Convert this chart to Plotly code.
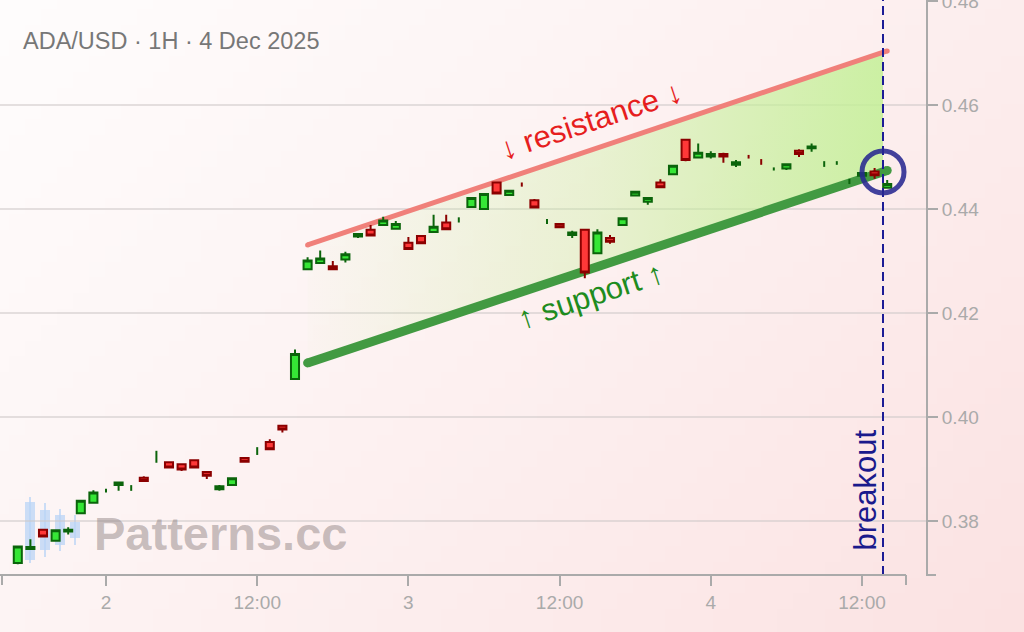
import base64
import struct
import zlib

import pandas as pd
import plotly.graph_objects as go

# ---------------- data ----------------
title_text = "ADA/USD · 1H · 4 Dec 2025"
times = pd.date_range("2025-12-01 17:00", periods=70, freq="h")

opens = [0.3719, 0.3746, 0.3783, 0.3762, 0.3780, 0.3815, 0.3835,
         0.3858, 0.3869, 0.3862, 0.3883, 0.3920, 0.3913, 0.3909, 0.3917, 0.3894,
         0.3861, 0.3869, 0.3921, 0.3930, 0.3952, 0.3983, 0.4073, 0.4284, 0.4296,
         0.4290, 0.4303, 0.4347, 0.4360, 0.4369, 0.4362,
         0.4335, 0.4348, 0.4356, 0.4374, 0.4378, 0.4404, 0.4400, 0.4451, 0.4427,
         0.4447, 0.4417, 0.4376, 0.4371, 0.4350, 0.4360, 0.4315, 0.4344, 0.4369,
         0.4426, 0.4414, 0.4451, 0.4467, 0.4533, 0.4499,
         0.4501, 0.4506, 0.4485, 0.4500, 0.4490, 0.4477, 0.4478, 0.4512, 0.4517,
         0.4487, 0.4489, 0.4453, 0.4464, 0.4472, 0.4441]
highs = [0.3751, 0.3765, 0.3785, 0.3782, 0.3788, 0.3839, 0.3859,
         0.3862, 0.3874, 0.3869, 0.3886, 0.3935, 0.3914, 0.3911, 0.3918, 0.3896,
         0.3869, 0.3883, 0.3923, 0.3942, 0.3957, 0.3985, 0.4130, 0.4307, 0.4320,
         0.4300, 0.4318, 0.4353, 0.4369, 0.4385, 0.4377,
         0.4346, 0.4349, 0.4389, 0.4389, 0.4384, 0.4421, 0.4430, 0.4452, 0.4436,
         0.4451, 0.4419, 0.4381, 0.4373, 0.4358, 0.4362, 0.4361, 0.4350, 0.4383,
         0.4434, 0.4421, 0.4457, 0.4485, 0.4535, 0.4526,
         0.4511, 0.4508, 0.4494, 0.4504, 0.4496, 0.4480, 0.4486, 0.4515, 0.4526,
         0.4492, 0.4492, 0.4458, 0.4470, 0.4479, 0.4456]
lows = [0.3717, 0.3744, 0.3769, 0.3761, 0.3774, 0.3815, 0.3835,
        0.3855, 0.3858, 0.3858, 0.3876, 0.3912, 0.3901, 0.3896, 0.3902, 0.3881,
        0.3858, 0.3868, 0.3914, 0.3927, 0.3937, 0.3970, 0.4072, 0.4283, 0.4295,
        0.4284, 0.4297, 0.4344, 0.4347, 0.4368, 0.4361,
        0.4322, 0.4334, 0.4355, 0.4360, 0.4374, 0.4403, 0.4399, 0.4430, 0.4426,
        0.4443, 0.4401, 0.4371, 0.4363, 0.4344, 0.4267, 0.4314, 0.4333, 0.4368,
        0.4425, 0.4408, 0.4441, 0.4465, 0.4492, 0.4498,
        0.4497, 0.4489, 0.4481, 0.4497, 0.4485, 0.4474, 0.4475, 0.4500, 0.4510,
        0.4481, 0.4485, 0.4448, 0.4462, 0.4458, 0.4440]
closes = [0.3751, 0.3750, 0.3770, 0.3782, 0.3783, 0.3839, 0.3855,
          0.3858, 0.3874, 0.3862, 0.3877, 0.3920, 0.3903, 0.3899, 0.3903, 0.3887,
          0.3867, 0.3882, 0.3914, 0.3930, 0.3938, 0.3976, 0.4121, 0.4301, 0.4305,
          0.4284, 0.4313, 0.4352, 0.4349, 0.4378, 0.4371,
          0.4323, 0.4334, 0.4366, 0.4361, 0.4378, 0.4421, 0.4429, 0.4430, 0.4435,
          0.4447, 0.4403, 0.4376, 0.4365, 0.4355, 0.4278, 0.4355, 0.4337, 0.4382,
          0.4433, 0.4421, 0.4442, 0.4483, 0.4494, 0.4508,
          0.4506, 0.4501, 0.4490, 0.4500, 0.4490, 0.4477, 0.4486, 0.4506, 0.4520,
          0.4487, 0.4489, 0.4453, 0.4469, 0.4465, 0.4448]
# bodyless candles (open == close): drawn as wick only, "u" green / "d" red
doji = ["", "", "", "", "", "", "",
        "u", "", "u", "", "u", "", "", "", "",
        "", "", "", "u", "", "", "", "", "",
        "", "", "", "", "", "",
        "", "", "", "", "u", "", "", "", "",
        "d", "", "u", "", "", "", "", "", "",
        "", "", "", "", "", "",
        "", "", "", "d", "d", "u", "", "", "",
        "u", "u", "u", "", "", ""]

x_tick_vals = ["2025-12-02 00:00", "2025-12-02 12:00", "2025-12-03 00:00",
               "2025-12-03 12:00", "2025-12-04 00:00", "2025-12-04 12:00"]
x_tick_text = ["2", "12:00", "3", "12:00", "4", "12:00"]
y_tick_vals = [0.38, 0.40, 0.42, 0.44, 0.46, 0.48]

channel_times = ["2025-12-02 16:00", "2025-12-04 14:00"]
resistance = [0.4331, 0.4704]
support = [0.4104, 0.4474]
breakout_time = "2025-12-04 13:40"

x_range = ["2025-12-01 15:35:14", "2025-12-04 17:04:45"]
y_range = [0.369615, 0.480192]

# ---------------- geometry helpers (page pixels -> paper) ----------------
PLOT_W, PLOT_H = 926, 575


def px(xp):
    return xp / PLOT_W


def py(yp):
    return 1 - yp / PLOT_H


# ---------------- background gradient image ----------------
def gradient_png(w, h):
    c0 = (254, 252, 252)
    c1 = (251, 226, 226)
    raw = bytearray()
    for j in range(h):
        raw.append(0)
        for i in range(w):
            u = i / (w - 1)
            v = j / (h - 1)
            t = min(1.0, 0.62 * u + 0.38 * v)
            t = t ** 1.2
            for a, b in zip(c0, c1):
                raw.append(int(round(a + (b - a) * t)))

    def chunk(tag, data):
        return (struct.pack(">I", len(data)) + tag + data
                + struct.pack(">I", zlib.crc32(tag + data) & 0xFFFFFFFF))

    png = b"\x89PNG\r\n\x1a\n"
    png += chunk(b"IHDR", struct.pack(">IIBBBBB", w, h, 8, 2, 0, 0, 0))
    png += chunk(b"IDAT", zlib.compress(bytes(raw), 9))
    png += chunk(b"IEND", b"")
    return "data:image/png;base64," + base64.b64encode(png).decode()


# ---------------- derived values ----------------
t0 = pd.Timestamp(channel_times[0])
t1 = pd.Timestamp(channel_times[1])
tb = pd.Timestamp(breakout_time)
frac = (tb - t0) / (t1 - t0)
res_b = resistance[0] + (resistance[1] - resistance[0]) * frac
sup_b = support[0] + (support[1] - support[0]) * frac

body_idx = [i for i, d in enumerate(doji) if d == ""]

fig = go.Figure()

# channel fill
fig.add_trace(go.Scatter(
    x=[channel_times[0], breakout_time, breakout_time, channel_times[0], channel_times[0]],
    y=[support[0], sup_b, res_b, resistance[0], support[0]],
    mode="lines", line=dict(width=0), fill="toself",
    fillgradient=dict(type="horizontal",
                      colorscale=[[0, "rgba(195,240,150,0.03)"],
                                  [0.5, "rgba(195,240,150,0.35)"],
                                  [1, "rgba(195,240,150,0.85)"]]),
    hoverinfo="skip", showlegend=False))

# resistance / support lines
fig.add_trace(go.Scatter(
    x=channel_times, y=resistance, mode="lines+markers",
    line=dict(color="#f0807a", width=5),
    marker=dict(color="#f0807a", size=5),
    hoverinfo="skip", showlegend=False))
fig.add_trace(go.Scatter(
    x=channel_times, y=support, mode="lines+markers",
    line=dict(color="#429a42", width=9),
    marker=dict(color="#429a42", size=9),
    hoverinfo="skip", showlegend=False))

# candles with bodies (on an overlaying subplot so they sit above the fill)
fig.add_trace(go.Candlestick(
    x=[times[i] for i in body_idx],
    open=[opens[i] for i in body_idx],
    high=[highs[i] for i in body_idx],
    low=[lows[i] for i in body_idx],
    close=[closes[i] for i in body_idx],
    increasing=dict(fillcolor="#36e636", line=dict(color="#0b640b", width=2)),
    decreasing=dict(fillcolor="#ff3838", line=dict(color="#8b0000", width=2)),
    xaxis="x2", yaxis="y2",
    showlegend=False, hoverinfo="skip"))

# bodyless candles: wick only
for side, color in (("u", "#0b640b"), ("d", "#8b0000")):
    xs, ys = [], []
    for i, d in enumerate(doji):
        if d == side:
            xs += [times[i], times[i], None]
            ys += [highs[i], lows[i], None]
    fig.add_trace(go.Scatter(x=xs, y=ys, mode="lines",
                             line=dict(color=color, width=2),
                             xaxis="x2", yaxis="y2",
                             hoverinfo="skip", showlegend=False))

axis_col = "#aaaaaa"
shapes = [
    # breakout marker line
    dict(type="line", xref="x", yref="paper", x0=breakout_time, x1=breakout_time,
         y0=0, y1=1, line=dict(color="#1c1c96", width=2, dash="9px,5px"), layer="above"),
    # breakout circle
    dict(type="circle", xref="x", yref="y", xsizemode="pixel", ysizemode="pixel",
         xanchor=breakout_time, yanchor=sup_b, x0=-21, x1=21, y0=-21, y1=21,
         line=dict(color="rgba(40,40,145,0.88)", width=5), layer="above"),
    # bottom axis line with outer ticks
    dict(type="line", xref="paper", yref="paper", x0=0, x1=px(906), y0=0, y1=0,
         line=dict(color=axis_col, width=2)),
    dict(type="line", xref="paper", yref="paper", x0=px(2), x1=px(2), y0=0, y1=py(585),
         line=dict(color=axis_col, width=2)),
    dict(type="line", xref="paper", yref="paper", x0=px(906), x1=px(906), y0=0, y1=py(585),
         line=dict(color=axis_col, width=2)),
    dict(type="line", xref="paper", yref="paper", x0=1, x1=px(936), y0=0, y1=0,
         line=dict(color=axis_col, width=2)),
]

# watermark logo (small candle icon)
logo = [(25, 35, 502, 560, 497, 563), (40, 50, 510, 550, 503, 557),
        (55, 65, 515, 545, 509, 551), (70, 80, 522, 538, 515, 545)]
for x0p, x1p, b0, b1, w0, w1 in logo:
    xc = (x0p + x1p) / 2
    shapes.append(dict(type="line", xref="paper", yref="paper", x0=px(xc), x1=px(xc),
                       y0=py(w0), y1=py(w1), line=dict(color="rgba(185,212,245,0.75)", width=2),
                       layer="below"))
    shapes.append(dict(type="rect", xref="paper", yref="paper", x0=px(x0p), x1=px(x1p),
                       y0=py(b0), y1=py(b1), fillcolor="rgba(185,212,245,0.75)",
                       line=dict(width=0), layer="below"))

font_family = "Liberation Sans, Arial, sans-serif"
annotations = [
    dict(text=title_text, xref="paper", yref="paper", x=px(21), y=py(41),
         xanchor="left", yanchor="middle", showarrow=False,
         font=dict(size=23.5, color="#777777", family=font_family)),
    dict(text="Patterns.cc", xref="paper", yref="paper", x=px(92), y=py(533),
         xanchor="left", yanchor="middle", showarrow=False,
         font=dict(size=47, color="rgba(140,128,128,0.48)", family=font_family, weight="bold")),
    dict(text="↓ resistance ↓", xref="x", yref="y", x="2025-12-03 14:30", y=0.4571,
         textangle=-18.4, showarrow=False, xanchor="center", yanchor="middle",
         font=dict(size=31, color="#e61e1e", family=font_family)),
    dict(text="↑ support ↑", xref="x", yref="y", x="2025-12-03 14:30", y=0.4233,
         textangle=-18.4, showarrow=False, xanchor="center", yanchor="middle",
         font=dict(size=31, color="#1e8c1e", family=font_family)),
    dict(text="breakout", xref="x", yref="paper", x=breakout_time, y=py(553),
         xshift=-18, xanchor="center", yanchor="bottom", textangle=-90, showarrow=False,
         font=dict(size=31, color="#1a1a8c", family=font_family)),
]

common_x = dict(type="date", range=x_range, fixedrange=True, automargin=False)
common_y = dict(range=y_range, fixedrange=True, automargin=False)

fig.update_layout(
    width=1024, height=632,
    margin=dict(l=0, r=98, t=0, b=57, pad=0, autoexpand=False),
    paper_bgcolor="#ffffff",
    plot_bgcolor="rgba(0,0,0,0)",
    showlegend=False,
    boxgap=0.2, boxgroupgap=0.2,
    shapes=shapes,
    annotations=annotations,
    images=[dict(source=gradient_png(64, 40), xref="paper", yref="paper",
                 x=0, y=1, sizex=1024 / PLOT_W, sizey=632 / PLOT_H,
                 xanchor="left", yanchor="top", sizing="stretch", layer="below")],
    xaxis=dict(**common_x, showgrid=False, zeroline=False,
               showline=False, ticks="outside", ticklen=10, tickwidth=2,
               tickcolor=axis_col, tickvals=x_tick_vals, ticktext=x_tick_text,
               tickfont=dict(size=19, color=axis_col, family=font_family),
               rangeslider=dict(visible=False)),
    yaxis=dict(**common_y, side="right", showgrid=True, gridcolor="rgba(205,200,200,0.55)",
               gridwidth=1.5, zeroline=False, showline=True, linecolor=axis_col,
               linewidth=2, ticks="outside", ticklen=10, tickwidth=2, tickcolor=axis_col,
               tickvals=y_tick_vals, tickformat=".2f", ticklabeloverflow="allow",
               tickfont=dict(size=19, color=axis_col, family=font_family)),
    xaxis2=dict(**common_x, overlaying="x", visible=False, rangeslider=dict(visible=False)),
    yaxis2=dict(**common_y, overlaying="y", visible=False),
    hovermode=False,
)

fig.write_html("out.html",
               config={"displayModeBar": False},
               post_script="document.body.style.margin='0';document.body.style.overflow='hidden';")
